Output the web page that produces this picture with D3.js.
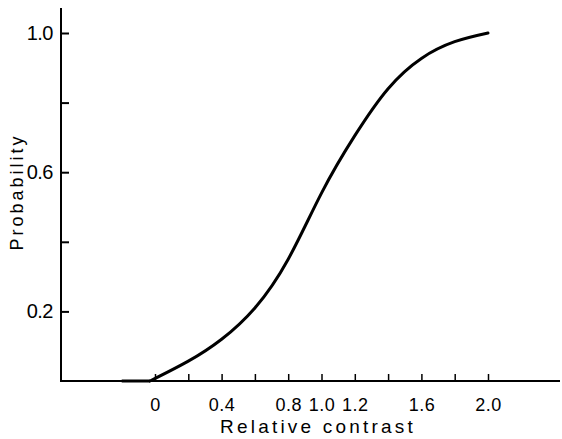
<!DOCTYPE html>
<html>
<head>
<meta charset="utf-8">
<script src="https://cdnjs.cloudflare.com/ajax/libs/d3/7.8.5/d3.min.js"></script>
<style>
body{ margin:0; padding:0; background:#fff; }
svg{ display:block; font-family:"Liberation Sans", Arial, sans-serif; }
.axis text{ fill:#000; }
.y text{ font-size:20px; letter-spacing:-0.5px; }
.x text{ font-size:18px; letter-spacing:0.5px; }
</style>
</head>
<body>
<div id="chart"></div>
<script>
// curve
var contrast = [-0.2, -0.03, 0.2, 0.4, 0.6, 0.8, 1.0, 1.2, 1.4, 1.6, 1.8, 2.0];
var probability = [0, 0, 0.057, 0.12, 0.21, 0.35, 0.54, 0.705, 0.84, 0.927, 0.975, 1.0];
var xTicks = [0, 0.2, 0.4, 0.6, 0.8, 1.0, 1.2, 1.4, 1.6, 1.8, 2.0];
var xLabels = ["0", "", "0.4", "", "0.8", "1.0", "1.2", "", "1.6", "", "2.0"];
var yTicks = [0.2, 0.4, 0.6, 0.8, 1.0];
var yLabels = ["0.2", "", "0.6", "", "1.0"];

var W = 562, H = 439;
var x = d3.scaleLinear().domain([0, 2]).range([155, 488]);
var y = d3.scaleLinear().domain([0, 1]).range([381, 33]);

var svg = d3.select("#chart").append("svg")
    .attr("width", W).attr("height", H);

// axes lines
svg.append("line").attr("x1", 61).attr("x2", 61).attr("y1", 8).attr("y2", y(0))
    .attr("stroke", "#000").attr("stroke-width", 2);
svg.append("line").attr("x1", 60).attr("x2", 560).attr("y1", y(0)).attr("y2", y(0))
    .attr("stroke", "#000").attr("stroke-width", 2);

var yAxis = d3.axisLeft(y).tickValues(yTicks)
    .tickSizeInner(-8).tickSizeOuter(0).tickPadding(8)
    .tickFormat(function(d, i){ return yLabels[i]; });
var gy = svg.append("g").attr("class", "axis y").attr("transform", "translate(61,0)").call(yAxis);
gy.select(".domain").remove();
gy.selectAll("line").attr("stroke", "#000").attr("stroke-width", 2);

var xAxis = d3.axisBottom(x).tickValues(xTicks)
    .tickSizeInner(-7).tickSizeOuter(0).tickPadding(17)
    .tickFormat(function(d, i){ return xLabels[i]; });
var gx = svg.append("g").attr("class", "axis x").attr("transform", "translate(0," + y(0) + ")").call(xAxis);
gx.select(".domain").remove();
gx.selectAll("line").attr("stroke", "#000").attr("stroke-width", 1.5);

// curve: flat run along the axis, then the smooth rise
var pts = contrast.map(function(c, i){ return [c, probability[i]]; });
var line = d3.line()
    .x(function(d){ return x(d[0]); })
    .y(function(d){ return y(d[1]); });
svg.append("path").datum(pts.slice(0, 2))
    .attr("d", line)
    .attr("fill", "none").attr("stroke", "#000").attr("stroke-width", 3);
svg.append("path").datum(pts.slice(1))
    .attr("d", line.curve(d3.curveNatural))
    .attr("fill", "none")
    .attr("stroke", "#000")
    .attr("stroke-width", 3)
    .attr("stroke-linecap", "round");

// titles
svg.append("text")
    .attr("x", 318).attr("y", 433)
    .attr("text-anchor", "middle")
    .attr("font-size", "19px")
    .style("letter-spacing", "3.2px")
    .text("Relative contrast");
svg.append("text")
    .attr("transform", "translate(23,192) rotate(-90)")
    .attr("text-anchor", "middle")
    .attr("font-size", "18px")
    .style("letter-spacing", "3px")
    .text("Probability");
</script>
</body>
</html>
